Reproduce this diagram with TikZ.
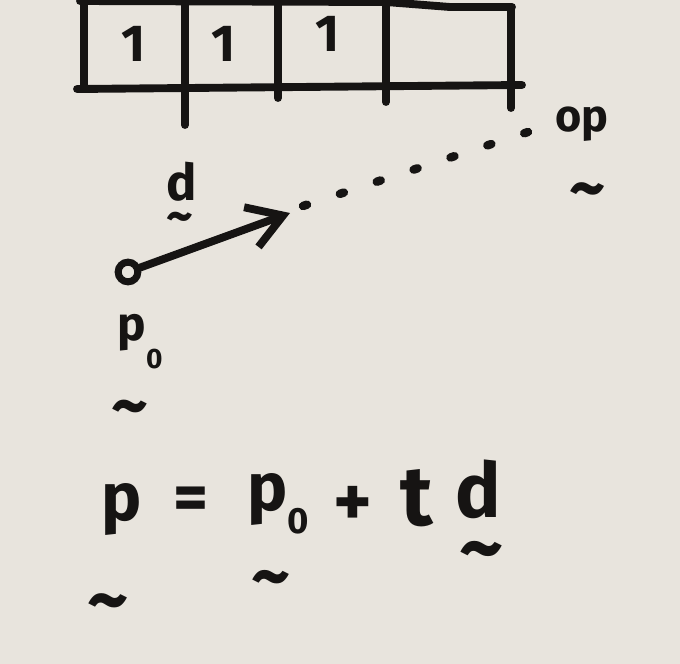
\documentclass[tikz,border=0pt]{standalone}
\usepackage{fontspec}
\setmainfont{Fira Sans}
\usetikzlibrary{arrows.meta}
\definecolor{paper}{RGB}{232,228,221}
\definecolor{ink}{RGB}{22,20,19}
\newcommand{\fs}[1]{\fontsize{#1}{#1}\selectfont}
\newcommand{\vtl}[1]{\fs{#1}\raisebox{-0.325em}[0.09em][0.09em]{\textasciitilde}}
\begin{document}
\begin{tikzpicture}[x=0.025cm,y=-0.025cm,
  inkline/.style={draw=ink, line width=5.6pt, line cap=round, line join=round},
  txt/.style={text=ink, inner sep=0pt, anchor=base, font=\bfseries},
  tld/.style={text=ink, inner sep=0pt, anchor=center, font=\bfseries},
]
\fill[paper] (0,0) rectangle (680,664);
\useasboundingbox (0,0) rectangle (680,664);
% register
\draw[inkline] (80,1) -- (386,2) -- (450,7) -- (512,7);
\draw[inkline] (84,0) -- (84,88);
\draw[inkline] (77,89) -- (522,85);
\draw[inkline] (185,0) -- (185,125);
\draw[inkline] (278,0) -- (278,98);
\draw[inkline] (386,2) -- (386,102);
\draw[inkline] (511,7) -- (511,108);
\node[txt] (one1) at (134,62) {\fs{37}1};
\node[txt] (one2) at (224,62) {\fs{37}1};
\node[txt] (one3) at (328,52) {\fs{37}1};
% ray
\node[draw=ink, line width=5pt, circle, minimum size=14pt, inner sep=0pt] (start) at (128,272) {};
\coordinate (tip) at (290,213);
\draw[inkline, -{Straight Barb[length=24pt,width=30pt]}] (start) -- (tip);
\coordinate (dotA) at (303,206);
\coordinate (dotB) at (528,132);
\draw[draw=ink, line width=6pt, line cap=round, dash pattern=on 3pt off 24.6pt] (dotA) -- (dotB);
% labels
\node[txt] (dlbl) at (182,200) {\fs{36}d};
\node[tld] (dlbltld) at (180,217) {\vtl{37}};
\node[txt] (op) at (582,131) {\fs{32}op};
\node[tld] (optld) at (588,189) {\vtl{50}};
\node[txt] (p0lbl) at (140,340) {\fs{34}p\raisebox{-20pt}{\fs{20}0}};
\node[tld] (p0lbltld) at (130,406) {\vtl{51}};
% equation
\node[txt] (peq) at (122,520) {\fs{48}p};
\node[tld] (peqtld) at (108,600) {\vtl{57}};
\node[txt] (eqsign) at (191,520) {\fs{48}=};
\node[txt] (p0eq) at (278,510) {\fs{48}p\raisebox{-17pt}{\fs{26}0}};
\node[tld] (p0eqtld) at (271,577) {\vtl{54}};
\node[txt] (plus) at (353,526) {\fs{52}+};
\node[txt] (teq) at (417,525) {\fs{60}t};
\node[txt] (deq) at (478,517) {\fs{54}d};
\node[tld] (deqtld) at (482,549) {\vtl{61}};
\end{tikzpicture}
\end{document}
